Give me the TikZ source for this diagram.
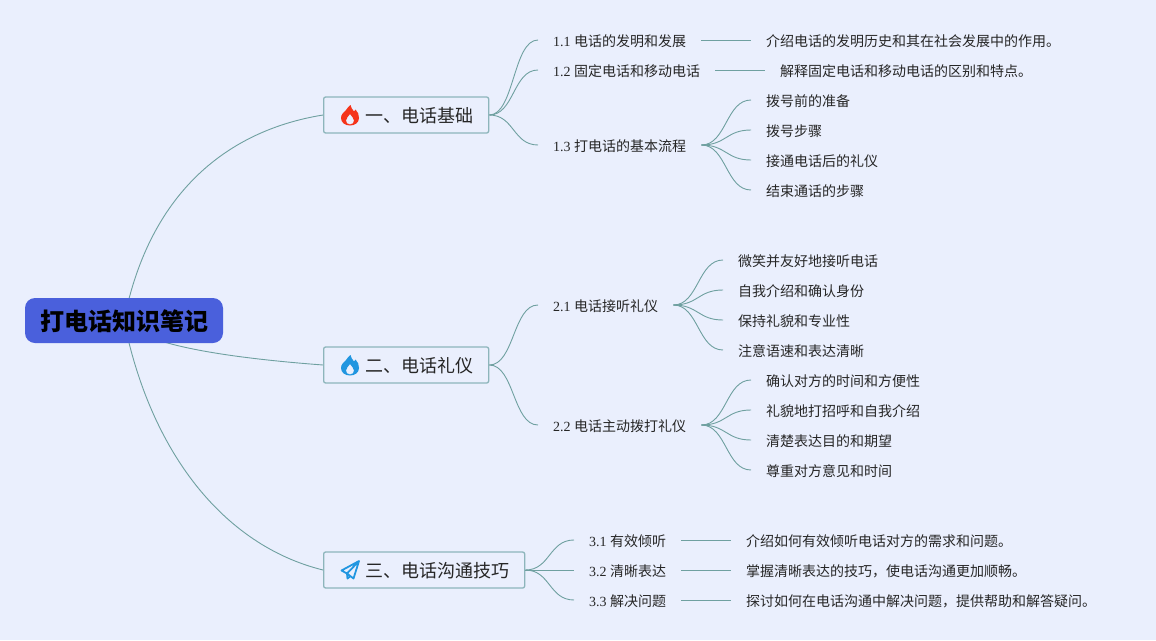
\documentclass[tikz,border=0pt]{standalone}
\usepackage{fontspec}
\setmainfont{Liberation Serif}
\newfontfamily\cjk{Noto Sans CJK SC}
\usetikzlibrary{backgrounds,positioning}
\definecolor{paper}{HTML}{EAEFFD}
\definecolor{rootblue}{HTML}{4A60DC}
\definecolor{linkteal}{HTML}{6FA0A0}
\definecolor{boxteal}{HTML}{8DB5BB}
\definecolor{flamered}{HTML}{F5341A}
\definecolor{flameblue}{HTML}{2196E0}
\tikzset{
  rootnode/.style={draw=none,fill=rootblue,rounded corners=10pt,minimum width=198pt,minimum height=45pt,inner sep=0pt,text height=23pt,text depth=2.8pt,font=\cjk\fontsize{24}{28}\selectfont\bfseries},
  topic/.style={draw=boxteal,line width=1.3pt,fill=paper,rounded corners=2pt,minimum height=36pt,inner xsep=15pt,inner ysep=0pt,text height=17.5pt,text depth=1.8pt,font=\cjk\fontsize{18}{22}\selectfont,text=black!85},
  leaf/.style={inner xsep=15pt,inner ysep=0pt,minimum height=20pt,text height=14pt,text depth=1.4pt,font=\fontsize{14}{18}\selectfont,text=black!85},
  link/.style={draw=linkteal,line width=0.9pt,to path={.. controls +(25,0) and +(-25,0) .. (\tikztotarget)}},
  flame/.pic={
    \fill[#1,even odd rule] (0,10.5) .. controls (-5,10.5) and (-9,7.5) .. (-9,3) .. controls (-9,-1) and (-6,-2.5) .. (-4,-5) .. controls (-3,-6.5) and (-1.5,-8.5) .. (0.5,-10) .. controls (1,-7.5) and (2,-6) .. (4,-3.5) .. controls (5,-4) and (5.5,-5) .. (5.5,-5.5) .. controls (8,-3) and (9,-0.5) .. (9,3) .. controls (9,7.5) and (5,10.5) .. (0,10.5) -- cycle
      (0,9.5) .. controls (2.8,9.5) and (4,7.5) .. (4,5.5) .. controls (4,3) and (1.5,1.5) .. (0,-1) .. controls (-1.5,1.5) and (-4,3) .. (-4,5.5) .. controls (-4,7.5) and (-2.8,9.5) .. (0,9.5) -- cycle;
  },
  plane/.pic={
    \draw[flameblue,line width=1.8pt,line join=round] (9,-9) -- (-8.5,0.5) -- (-3,3.5) -- (9,-9) -- (3.5,8.5) -- (-3,3.5) (-3,3.5) -- (-2.5,8.5) -- (0.5,6);
  }
}
\begin{document}
\begin{tikzpicture}[x=1pt,y=-1pt]
\useasboundingbox (0,0) rectangle (1156,640);
\begin{scope}[on background layer]
\fill[paper] (0,0) rectangle (1156,640);
\end{scope}
% root and topics
\node[rootnode] (root) at (124,320.5) {打电话知识笔记};
\node[topic,anchor=west] (basics) at (323,115) {\hspace*{27pt}一、电话基础};
\node[topic,anchor=west] (manners) at (323,365) {\hspace*{27pt}二、电话礼仪};
\node[topic,anchor=west] (skills) at (323,570) {\hspace*{27pt}三、电话沟通技巧};
\pic at ([xshift=27pt]basics.west) {flame=flamered};
\pic at ([xshift=27pt]manners.west) {flame=flameblue};
\pic at ([xshift=27pt]skills.west) {plane};
% first branch
\node[leaf,anchor=west] (a1) at (538,40) {1.1 {\cjk 电话的发明和发展}};
\node[leaf,anchor=west] (a2) at (538,70) {1.2 {\cjk 固定电话和移动电话}};
\node[leaf,anchor=west] (a3) at (538,145) {1.3 {\cjk 打电话的基本流程}};
\node[leaf,anchor=west] (a1x) at (751,40) {\cjk 介绍电话的发明历史和其在社会发展中的作用。};
\node[leaf,anchor=west] (a2x) at (765,70) {\cjk 解释固定电话和移动电话的区别和特点。};
\node[leaf,anchor=west] (a31) at (751,100) {\cjk 拨号前的准备};
\node[leaf,anchor=west] (a32) at (751,130) {\cjk 拨号步骤};
\node[leaf,anchor=west] (a33) at (751,160) {\cjk 接通电话后的礼仪};
\node[leaf,anchor=west] (a34) at (751,190) {\cjk 结束通话的步骤};
% second branch
\node[leaf,anchor=west] (b1) at (538,305) {2.1 {\cjk 电话接听礼仪}};
\node[leaf,anchor=west] (b2) at (538,425) {2.2 {\cjk 电话主动拨打礼仪}};
\node[leaf,anchor=west] (b11) at (723,260) {\cjk 微笑并友好地接听电话};
\node[leaf,anchor=west] (b12) at (723,290) {\cjk 自我介绍和确认身份};
\node[leaf,anchor=west] (b13) at (723,320) {\cjk 保持礼貌和专业性};
\node[leaf,anchor=west] (b14) at (723,350) {\cjk 注意语速和表达清晰};
\node[leaf,anchor=west] (b21) at (751,380) {\cjk 确认对方的时间和方便性};
\node[leaf,anchor=west] (b22) at (751,410) {\cjk 礼貌地打招呼和自我介绍};
\node[leaf,anchor=west] (b23) at (751,440) {\cjk 清楚表达目的和期望};
\node[leaf,anchor=west] (b24) at (751,470) {\cjk 尊重对方意见和时间};
% third branch
\node[leaf,anchor=west] (c1) at (574,540) {3.1 {\cjk 有效倾听}};
\node[leaf,anchor=west] (c2) at (574,570) {3.2 {\cjk 清晰表达}};
\node[leaf,anchor=west] (c3) at (574,600) {3.3 {\cjk 解决问题}};
\node[leaf,anchor=west] (c1x) at (731,540) {\cjk 介绍如何有效倾听电话对方的需求和问题。};
\node[leaf,anchor=west] (c2x) at (731,570) {\cjk 掌握清晰表达的技巧，使电话沟通更加顺畅。};
\node[leaf,anchor=west] (c3x) at (731,600) {\cjk 探讨如何在电话沟通中解决问题，提供帮助和解答疑问。};
% connectors
\begin{scope}[on background layer]
\draw[linkteal,line width=0.9pt] (root.center) .. controls (150,190) and (230,130) .. (basics.west);
\draw[linkteal,line width=0.9pt] (root.center) .. controls (140,345) and (230,358) .. (manners.west);
\draw[linkteal,line width=0.9pt] (root.center) .. controls (150,450) and (222,545) .. (skills.west);
\end{scope}
\foreach \from/\to in {basics/a1,basics/a2,basics/a3,a1/a1x,a2/a2x,a3/a31,a3/a32,a3/a33,a3/a34,
  manners/b1,manners/b2,b1/b11,b1/b12,b1/b13,b1/b14,b2/b21,b2/b22,b2/b23,b2/b24,
  skills/c1,skills/c2,skills/c3,c1/c1x,c2/c2x,c3/c3x}
  \draw[link] (\from.east) to (\to.west);
\end{tikzpicture}
\end{document}
